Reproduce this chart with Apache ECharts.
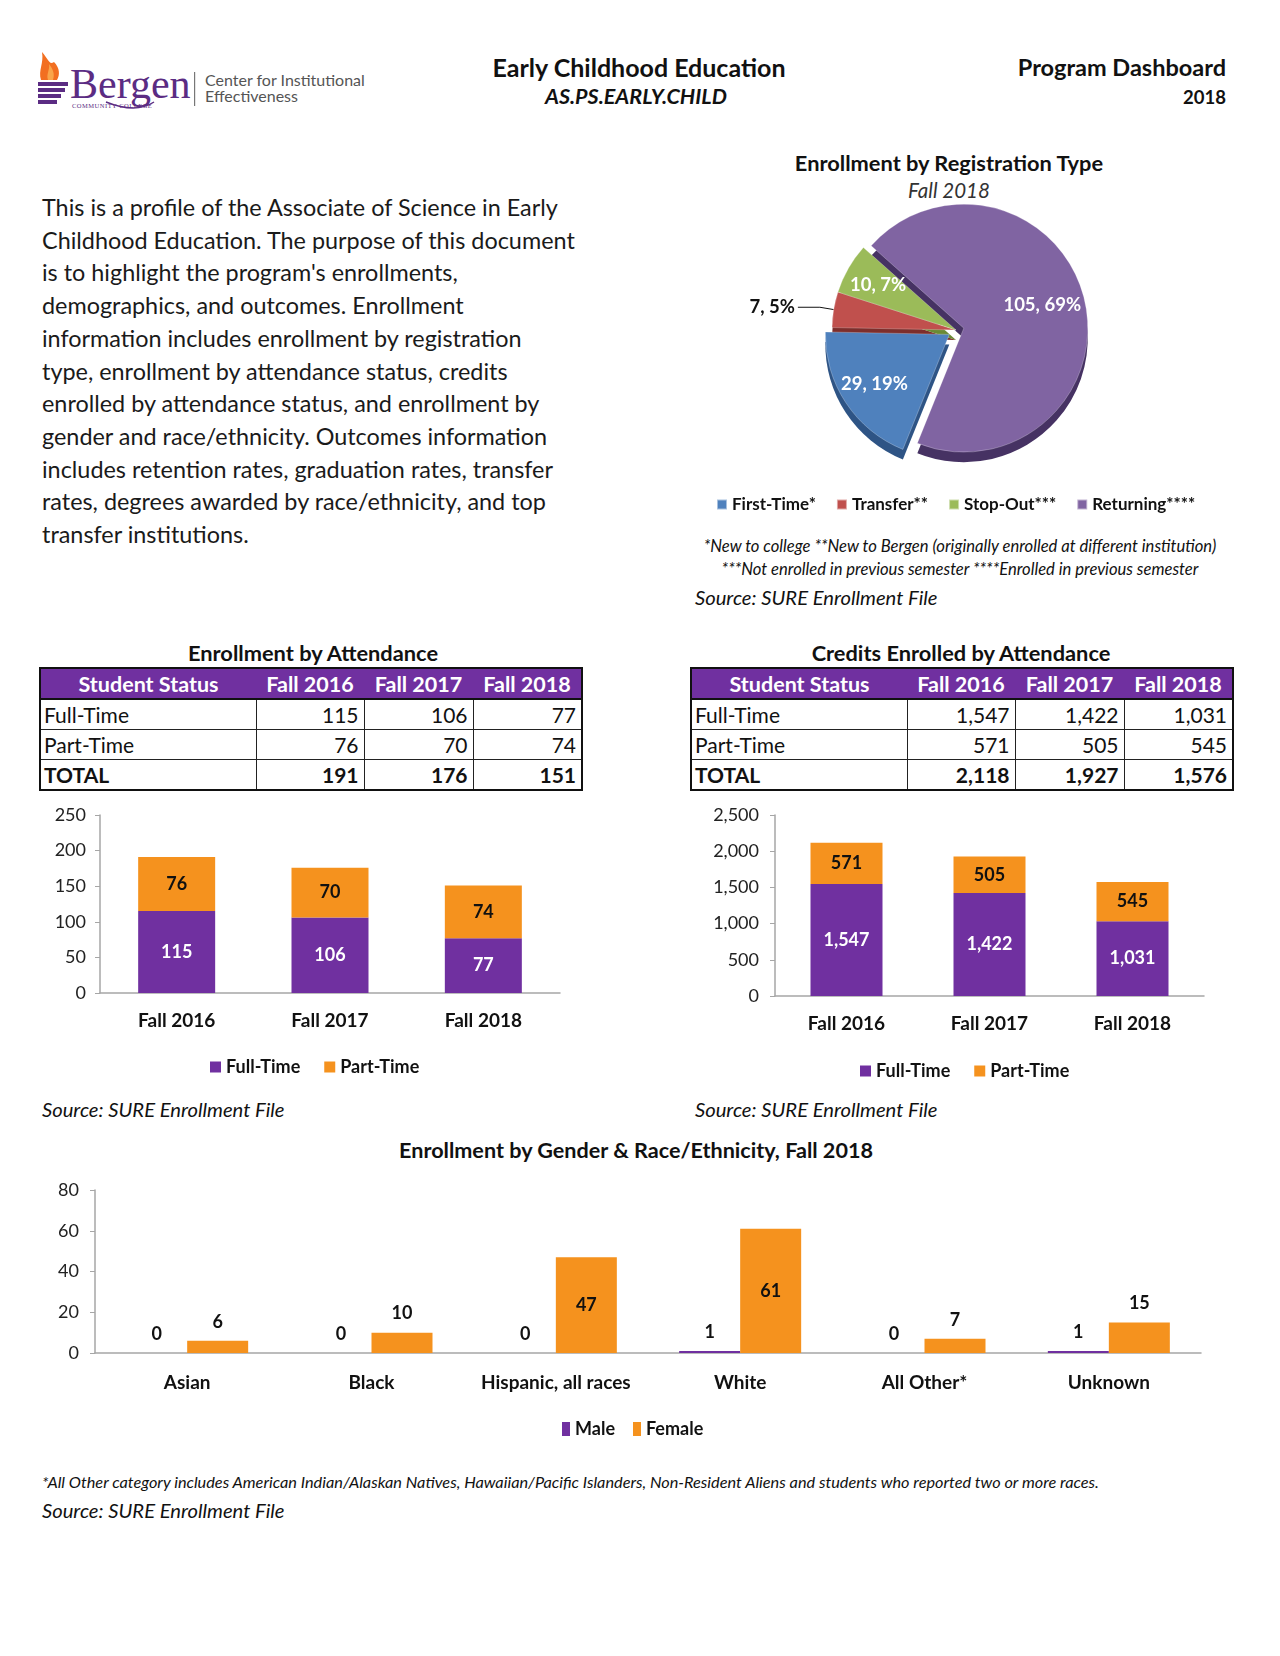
<!DOCTYPE html>
<html><head><meta charset="utf-8">
<script src="https://cdn.jsdelivr.net/npm/echarts@6/dist/echarts.min.js"></script>
<style>
html,body{margin:0;padding:0;background:#fff;}
#page{position:relative;width:1280px;height:1656px;overflow:hidden;font-family:Lato,'Open Sans',sans-serif;color:#111;}
.t{position:absolute;white-space:nowrap;line-height:1;}
.l{transform:translateY(-50%);} .c{transform:translate(-50%,-50%);} .r{transform:translate(-100%,-50%);}
table.tb{position:absolute;border-collapse:collapse;font-family:Lato,'Open Sans',sans-serif;border:2px solid #111;table-layout:fixed;}
table.tb th{background:#7030A0;color:#fff;font-weight:bold;font-size:21.5px;height:29px;padding:0;text-align:center;border-bottom:2px solid #111;}
table.tb td{font-size:21px;height:29px;padding:0 5px;border:1.5px solid #222;text-align:right;}
table.tb td.n{text-align:left;padding-left:3px;}
table.tb tr.tot td{font-weight:bold;}
#c{position:absolute;left:0;top:0;width:1280px;height:1656px;}
</style></head>
<body><div id="page"></div>
<script>
// ---------- DATA ----------
const years = ['Fall 2016','Fall 2017','Fall 2018'];
const enrollFullTime = [115,106,77];
const enrollPartTime = [76,70,74];
const creditsFullTime = [1547,1422,1031];
const creditsPartTime = [571,505,545];
const regTypes = ['First-Time*','Transfer**','Stop-Out***','Returning****'];
const regValues = [29,7,10,105];
const races = ['Asian','Black','Hispanic, all races','White','All Other*','Unknown'];
const maleCounts = [0,0,0,1,0,1];
const femaleCounts = [6,10,47,61,7,15];
const enrollTicks = {min:0,max:250,interval:50};
const creditTicks = {min:0,max:2500,interval:500};
const raceTicks = {min:0,max:80,interval:20};
const introLines = [
 "This is a profile of the Associate of Science in Early",
 "Childhood Education. The purpose of this document",
 "is to highlight the program's enrollments,",
 "demographics, and outcomes. Enrollment",
 "information includes enrollment by registration",
 "type, enrollment by attendance status, credits",
 "enrolled by attendance status, and enrollment by",
 "gender and race/ethnicity. Outcomes information",
 "includes retention rates, graduation rates, transfer",
 "rates, degrees awarded by race/ethnicity, and top",
 "transfer institutions."
];

const PURPLE='#7030A0', ORANGE='#F5921E';
const PIE_COLORS=['#4F81BD','#C0504D','#9BBB59','#8064A2'];
const PIE_DEPTH=['#2E5485','#7D2E2C','#6A8A35','#463263'];
const fmt = v => Number(v).toLocaleString('en-US');

const page=document.getElementById('page');
function txt(s,x,y,cls,style){const d=document.createElement('div');d.className='t '+cls;d.textContent=s;d.style.left=x+'px';d.style.top=y+'px';Object.assign(d.style,style||{});page.appendChild(d);return d;}

// ---------- LOGO ----------
const logo=document.createElement('div');
logo.innerHTML='<svg width="340" height="64" style="position:absolute;left:36px;top:50px" xmlns="http://www.w3.org/2000/svg">'+
 '<path d="M5 30 C2 20 8 14 6 2 C13 10 13 15 18 12 C24 18 24 25 21 30 Z" fill="#F26F21"/>'+
 '<path d="M12 30 C10 24 14 20 13 14 C17 19 19 24 17 30 Z" fill="#F9A54A"/>'+
 '<rect x="2" y="32" width="30" height="4" fill="#5B2C83"/>'+
 '<rect x="2" y="38" width="27" height="4" fill="#5B2C83"/>'+
 '<rect x="2" y="44" width="23" height="4" fill="#5B2C83"/>'+
 '<rect x="2" y="50" width="19" height="4" fill="#5B2C83"/>'+
 '<text x="34" y="48" font-family="Liberation Serif, DejaVu Serif, serif" font-size="42" fill="#5B2C83">Bergen</text>'+
 '<text x="36" y="58" font-family="Liberation Serif, serif" font-size="6.5" fill="#5B2C83" letter-spacing="0.5">COMMUNITY          COLLEGE</text>'+
 '<path d="M70 52 Q100 64 118 52" stroke="#5B2C83" stroke-width="1.5" fill="none"/>'+
 '<rect x="158" y="22" width="1.2" height="34" fill="#777"/>'+
 '<text x="169" y="36" font-family="Lato, Open Sans, sans-serif" font-size="16" fill="#555">Center for Institutional</text>'+
 '<text x="169" y="52" font-family="Lato, Open Sans, sans-serif" font-size="16" fill="#555">Effectiveness</text>'+
 '</svg>';
page.appendChild(logo);

// ---------- HEADER ----------
txt('Early Childhood Education',639,67,'c',{fontWeight:'bold',fontSize:'25px'});
txt('AS.PS.EARLY.CHILD',636,97,'c',{fontWeight:'bold',fontStyle:'italic',fontSize:'21.5px'});
txt('Program Dashboard',1226,68,'r',{fontWeight:'bold',fontSize:'23.5px'});
txt('2018',1226,97,'r',{fontWeight:'bold',fontSize:'18.5px'});

// ---------- INTRO ----------
introLines.forEach((s,i)=>txt(s,42,208+i*32.7,'l',{fontSize:'23.4px',color:'#1a1a1a'}));

// ---------- PIE NOTES ----------
txt('Enrollment by Registration Type',949,163,'c',{fontWeight:'bold',fontSize:'21.8px'});
txt('Fall 2018',949,190,'c',{fontStyle:'italic',fontSize:'20.5px',color:'#333'});
txt('*New to college **New to Bergen (originally enrolled at different institution)',960,546,'c',{fontStyle:'italic',fontSize:'16.6px'});
txt('***Not enrolled in previous semester ****Enrolled in previous semester',960,569,'c',{fontStyle:'italic',fontSize:'16.6px'});
txt('Source: SURE Enrollment File',695,597,'l',{fontStyle:'italic',fontSize:'20.2px'});

// ---------- TABLES ----------
function table(left,title,titleX,ft,pt){
  txt(title,titleX,653,'c',{fontWeight:'bold',fontSize:'21.8px'});
  const tot=ft.map((v,i)=>v+pt[i]);
  const t=document.createElement('table');t.className='tb';
  t.style.left=left+'px';t.style.top='667px';t.style.width='542px';
  let h='<colgroup><col style="width:216px"><col style="width:108px"><col style="width:109px"><col style="width:109px"></colgroup>';
  h+='<tr><th>Student Status</th>'+years.map(y=>'<th>'+y+'</th>').join('')+'</tr>';
  h+='<tr><td class="n">Full-Time</td>'+ft.map(v=>'<td>'+fmt(v)+'</td>').join('')+'</tr>';
  h+='<tr><td class="n">Part-Time</td>'+pt.map(v=>'<td>'+fmt(v)+'</td>').join('')+'</tr>';
  h+='<tr class="tot"><td class="n">TOTAL</td>'+tot.map(v=>'<td>'+fmt(v)+'</td>').join('')+'</tr>';
  t.innerHTML=h;page.appendChild(t);
}
table(39,'Enrollment by Attendance',313,enrollFullTime,enrollPartTime);
table(690,'Credits Enrolled by Attendance',961,creditsFullTime,creditsPartTime);

txt('Source: SURE Enrollment File',42,1109,'l',{fontStyle:'italic',fontSize:'20.2px'});
txt('Source: SURE Enrollment File',695,1109,'l',{fontStyle:'italic',fontSize:'20.2px'});
txt('Enrollment by Gender & Race/Ethnicity, Fall 2018',636,1151,'c',{fontWeight:'bold',fontSize:'21.6px'});
txt('*All Other category includes American Indian/Alaskan Natives, Hawaiian/Pacific Islanders, Non-Resident Aliens and students who reported two or more races.',42,1482,'l',{fontStyle:'italic',fontSize:'16.3px'});
txt('Source: SURE Enrollment File',42,1510,'l',{fontStyle:'italic',fontSize:'20.2px'});

// ---------- CHARTS ----------
const cdiv=document.createElement('div');cdiv.id='c';page.appendChild(cdiv);
const chart=echarts.init(cdiv,null,{renderer:'canvas',width:1280,height:1656});
const FONT='Lato';
const axisCol='#A6A6A6';
function yAx(g,t,labFmt,margin,fs){return {gridIndex:g,type:'value',min:t.min,max:t.max,interval:t.interval,
  axisLine:{show:true,lineStyle:{color:axisCol,width:1.5}},axisTick:{show:true,length:5,lineStyle:{color:axisCol}},
  splitLine:{show:false},axisLabel:{fontFamily:FONT,fontSize:fs,color:'#222',margin:margin,formatter:labFmt||(v=>v)}};}
function xAx(g,data,margin){return {gridIndex:g,type:'category',data:data,axisLine:{lineStyle:{color:axisCol,width:1.5}},
  axisTick:{show:false},axisLabel:{fontFamily:FONT,fontSize:19,fontWeight:'bold',color:'#111',margin:margin,interval:0}};}
const pieSel=(arr,extra)=>arr.map((v,i)=>Object.assign({name:regTypes[i],value:v,selected:(i===0||i===3)},extra?extra(i):{}));
const PIE_C=[956,330], PIE_R=124;
const pieCommon={type:'pie',center:PIE_C,radius:PIE_R,startAngle:248,clockwise:true,selectedMode:'multiple',selectedOffset:8,
  avoidLabelOverlap:false,percentPrecision:0,emphasis:{disabled:true},animation:false};
const legendCommon={icon:'rect',itemWidth:11,itemHeight:11,itemGap:24,textStyle:{fontFamily:FONT,fontSize:18,fontWeight:'bold',color:'#111'},selectedMode:false};

chart.setOption({
  animation:false,
  grid:[
    {left:100,top:815,width:460,height:178,outerBoundsMode:'none'},
    {left:775,top:815,width:429,height:181,outerBoundsMode:'none'},
    {left:95,top:1190,width:1106,height:163,outerBoundsMode:'none'}
  ],
  xAxis:[xAx(0,years,18),xAx(1,years,18),xAx(2,races,20)],
  yAxis:[yAx(0,enrollTicks,null,14,18),yAx(1,creditTicks,fmt,16,18),yAx(2,raceTicks,null,16,18)],
  legend:[
    Object.assign({},legendCommon,{data:regTypes,left:711,top:491,itemGap:20,itemWidth:10,itemHeight:10,textStyle:{fontFamily:FONT,fontSize:17,fontWeight:'bold',color:'#111'}}),
    Object.assign({},legendCommon,{data:['Full-Time','Part-Time'],left:205,top:1053}),
    Object.assign({},legendCommon,{data:['Full-Time','Part-Time'],left:855,top:1057}),
    Object.assign({},legendCommon,{data:['Male','Female'],left:557,top:1415,itemWidth:8,itemHeight:14,itemGap:18})
  ],
  series:[
    // main pie face (first so legend takes its colours)
    Object.assign({},pieCommon,{name:'reg',z:3,
      data:pieSel(regValues,i=>({itemStyle:{color:PIE_COLORS[i]},
        label:{show:i===1,position:'outside',color:'#111',fontFamily:FONT,fontWeight:'bold',fontSize:18.5,formatter:'{c}, {d}%',distanceToLabelLine:3},
        labelLine:{show:i===1,length:14,length2:22,lineStyle:{color:'#111',width:1}}})),
      itemStyle:{borderColor:'rgba(255,255,255,0.5)',borderWidth:0.5}}),
    // pie depth (3D side)
    Object.assign({},pieCommon,{name:'depth',z:1,silent:true,center:[PIE_C[0],PIE_C[1]+10],legendHoverLink:false,
      label:{show:false},labelLine:{show:false},
      data:pieSel(regValues,i=>({itemStyle:{color:PIE_DEPTH[i]}}))}),
    // label ring for inside labels (labels sit at ~0.7 of the face radius)
    Object.assign({},pieCommon,{name:'lbl',z:4,silent:true,radius:PIE_R*1.4,legendHoverLink:false,
      itemStyle:{color:'rgba(0,0,0,0)'},labelLine:{show:false},
      label:{position:'inside',color:'#fff',fontFamily:FONT,fontWeight:'bold',fontSize:18.5,formatter:'{c}, {d}%'},
      labelLayout:p=>(p.dataIndex===3?{dx:-9,dy:-3}:{}),
      data:pieSel(regValues,i=>({itemStyle:{color:'rgba(0,0,0,0)'},label:{show:i!==1}}))}),
    // enrollment bars
    {type:'bar',name:'Full-Time',xAxisIndex:0,yAxisIndex:0,stack:'e',data:enrollFullTime,barWidth:77,itemStyle:{color:PURPLE},
      label:{show:true,position:'inside',color:'#fff',fontFamily:FONT,fontWeight:'bold',fontSize:18}},
    {type:'bar',name:'Part-Time',xAxisIndex:0,yAxisIndex:0,stack:'e',data:enrollPartTime,barWidth:77,itemStyle:{color:ORANGE},
      label:{show:true,position:'inside',color:'#111',fontFamily:FONT,fontWeight:'bold',fontSize:18}},
    // credits bars
    {type:'bar',name:'Full-Time',xAxisIndex:1,yAxisIndex:1,stack:'c',data:creditsFullTime,barWidth:72,itemStyle:{color:PURPLE},
      label:{show:true,position:'inside',color:'#fff',fontFamily:FONT,fontWeight:'bold',fontSize:18,formatter:p=>fmt(p.value)}},
    {type:'bar',name:'Part-Time',xAxisIndex:1,yAxisIndex:1,stack:'c',data:creditsPartTime,barWidth:72,itemStyle:{color:ORANGE},
      label:{show:true,position:'inside',color:'#111',fontFamily:FONT,fontWeight:'bold',fontSize:18,formatter:p=>fmt(p.value)}},
    // race bars
    {type:'bar',name:'Male',xAxisIndex:2,yAxisIndex:2,data:maleCounts,barWidth:61,barGap:'0%',itemStyle:{color:PURPLE},
      label:{show:true,position:'top',distance:10,color:'#111',fontFamily:FONT,fontWeight:'bold',fontSize:18}},
    {type:'bar',name:'Female',xAxisIndex:2,yAxisIndex:2,barWidth:61,barGap:'0%',itemStyle:{color:ORANGE},
      data:femaleCounts.map(v=>({value:v,label:v>=40?{position:'inside'}:{}})),
      label:{show:true,position:'top',distance:10,color:'#111',fontFamily:FONT,fontWeight:'bold',fontSize:18}}
  ]
});
</script>
</body></html>
